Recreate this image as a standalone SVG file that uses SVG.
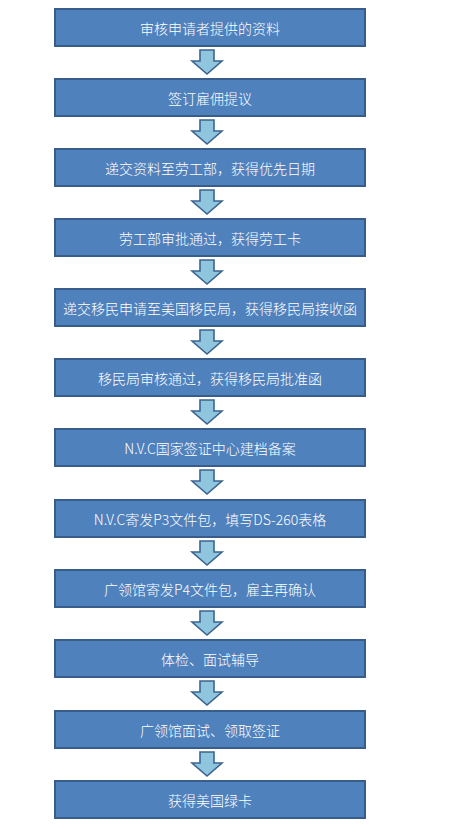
<svg xmlns="http://www.w3.org/2000/svg" width="461" height="832" viewBox="0 0 461 832">
<style>
.box{fill:#4f81bd;stroke:#385d8a;stroke-width:2}
.lbl{fill:#ffffff;font-family:"Microsoft YaHei","Noto Sans CJK SC",sans-serif;font-size:14px;font-weight:300;text-anchor:middle;dominant-baseline:central}
.arr{fill:#8fc6de;stroke:#3b6491;stroke-width:1.6;stroke-linejoin:miter}
</style>
<defs>
<path id="a" d="M200,0 H214 V11 H222 L207,24 L192,11 H200 Z"/>
</defs>
<rect width="461" height="832" fill="#ffffff"/>
<g id="connectors">
<use href="#a" class="arr" y="50"/>
<use href="#a" class="arr" y="120"/>
<use href="#a" class="arr" y="190"/>
<use href="#a" class="arr" y="260"/>
<use href="#a" class="arr" y="330"/>
<use href="#a" class="arr" y="400"/>
<use href="#a" class="arr" y="470"/>
<use href="#a" class="arr" y="541"/>
<use href="#a" class="arr" y="611"/>
<use href="#a" class="arr" y="681"/>
<use href="#a" class="arr" y="752"/>
</g>
<g id="n1"><rect class="box" x="55" y="9" width="310" height="37"/><text class="lbl" x="210" y="28">审核申请者提供的资料</text></g>
<g id="n2"><rect class="box" x="55" y="79" width="310" height="37"/><text class="lbl" x="210" y="98">签订雇佣提议</text></g>
<g id="n3"><rect class="box" x="55" y="149" width="310" height="37"/><text class="lbl" x="210" y="168">递交资料至劳工部，获得优先日期</text></g>
<g id="n4"><rect class="box" x="55" y="219" width="310" height="37"/><text class="lbl" x="210" y="238">劳工部审批通过，获得劳工卡</text></g>
<g id="n5"><rect class="box" x="55" y="289" width="310" height="37"/><text class="lbl" x="210" y="308">递交移民申请至美国移民局，获得移民局接收函</text></g>
<g id="n6"><rect class="box" x="55" y="359" width="310" height="37"/><text class="lbl" x="210" y="378">移民局审核通过，获得移民局批准函</text></g>
<g id="n7"><rect class="box" x="55" y="429" width="310" height="37"/><text class="lbl" x="210" y="448">N.V.C国家签证中心建档备案</text></g>
<g id="n8"><rect class="box" x="55" y="500" width="310" height="37"/><text class="lbl" x="210" y="519">N.V.C寄发P3文件包，填写DS-260表格</text></g>
<g id="n9"><rect class="box" x="55" y="570" width="310" height="37"/><text class="lbl" x="210" y="589">广领馆寄发P4文件包，雇主再确认</text></g>
<g id="n10"><rect class="box" x="55" y="640" width="310" height="37"/><text class="lbl" x="210" y="659">体检、面试辅导</text></g>
<g id="n11"><rect class="box" x="55" y="711" width="310" height="37"/><text class="lbl" x="210" y="730">广领馆面试、领取签证</text></g>
<g id="n12"><rect class="box" x="55" y="781" width="310" height="37"/><text class="lbl" x="210" y="800">获得美国绿卡</text></g>
</svg>
